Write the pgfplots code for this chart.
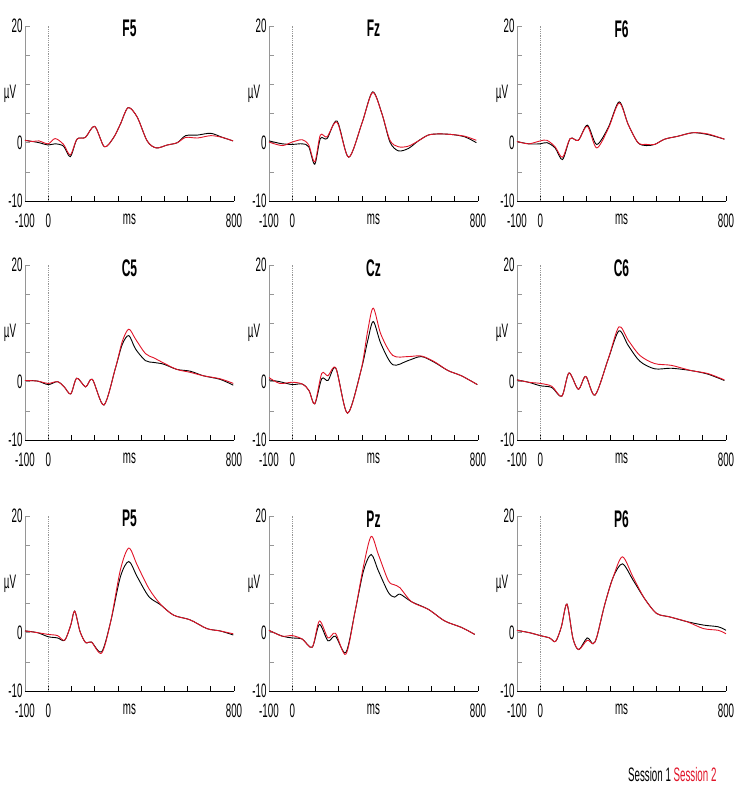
\documentclass[border=0pt]{standalone}
\usepackage{pgfplots}
\pgfplotsset{compat=1.18}
\usepackage{fontspec}
\setmainfont{Liberation Sans}[FakeStretch=0.5]
\definecolor{sred}{RGB}{225,20,40}
\definecolor{spine}{RGB}{150,150,150}

\pgfplotsset{
  erp/.style={
    width=209pt, height=175pt, scale only axis, anchor=south west,
    xmin=-100, xmax=800, ymin=-10, ymax=20,
    axis x line=bottom, axis y line=left,
    x axis line style={black,-,line width=0.8pt},
    y axis line style={spine,-,line width=0.8pt},
    xtick={-100,0,...,800}, xticklabels={-100,0,,,,,,,,800},
    extra x ticks={350}, extra x tick labels={ms},
    extra x tick style={major tick length=0pt},
    ytick={-10,-5,...,20}, yticklabels={-10,,0,,,,20},
    tick align=inside, major tick length=5pt,
    x tick style={black,line width=0.6pt},
    y tick style={spine,line width=0.6pt},
    tick label style={font=\fontsize{19.5}{19.5}\selectfont},
    xticklabel style={yshift=-9pt},
    yticklabel style={xshift=1pt},
    title style={at={(0.5,0.95)}, anchor=center, font=\bfseries\fontsize{24}{24}\selectfont},
    clip=false,
  },
  s1/.style={black, line width=0.9pt, smooth, tension=0.5},
  s2/.style={sred, line width=0.9pt, smooth, tension=0.5},
}
\newcommand{\erpdeco}{%
  \addplot[spine, densely dotted, line width=0.8pt] coordinates {(0,-10) (0,20)};
  \node[font=\fontsize{19.5}{19.5}\selectfont] at (rel axis cs:0,0.61) [xshift=-15pt] {µV};
}

\begin{document}
\begin{tikzpicture}
\path[use as bounding box] (0pt,0pt) rectangle (739pt,792pt);

% row 1
\begin{axis}[erp, at={(25pt,591pt)}, title={F5}]
\erpdeco
\addplot[s1] coordinates {(-100,0.4)(-68,0.2)(-40,0.0)(0,-0.4)(30,-0.2)(66,-0.6)(95,-2.4)(124,0.6)(160,0.9)(200,2.8)(242,-0.7)(282,0.9)(311,3.2)(344,6.0)(383,4.4)(426,0.3)(465,-0.9)(513,-0.4)(556,0.0)(592,1.2)(643,1.3)(700,1.6)(750,0.9)(796,0.3)};
\addplot[s2] coordinates {(-100,0.4)(-68,0.2)(-40,0.3)(0,-0.2)(30,0.7)(66,-0.3)(95,-2.1)(124,0.6)(160,0.9)(200,2.8)(242,-0.7)(282,0.9)(311,3.2)(344,6.0)(383,4.4)(426,0.3)(465,-0.9)(513,-0.4)(556,0.0)(592,0.9)(643,0.8)(700,1.2)(750,0.9)(796,0.3)};
\end{axis}

\begin{axis}[erp, at={(269pt,591pt)}, title={Fz}]
\erpdeco
\addplot[s1] coordinates {(-100,0.3)(-43,-0.2)(0,-0.3)(43,-0.2)(71,-0.7)(97,-3.7)(121,0.7)(150,0.7)(193,3.7)(243,-2.5)(300,3.3)(346,8.7)(386,5.0)(421,0.1)(457,-1.4)(500,-1.0)(543,0.3)(586,1.3)(629,1.5)(686,1.4)(743,1.0)(793,0.0)};
\addplot[s2] coordinates {(-100,0.1)(-43,-0.5)(0,0.1)(43,0.5)(71,-0.4)(97,-3.3)(121,1.3)(150,1.0)(193,3.5)(243,-2.5)(300,3.3)(346,8.6)(386,5.0)(421,0.4)(457,-0.7)(500,-0.6)(543,0.3)(586,1.3)(629,1.5)(686,1.4)(743,1.1)(793,0.4)};
\end{axis}

\begin{axis}[erp, at={(517pt,591pt)}, title={F6}]
\erpdeco
\addplot[s1] coordinates {(-100,0.2)(-50,-0.2)(0,-0.2)(29,0.0)(64,-0.9)(96,-2.9)(129,0.7)(164,0.4)(203,3.0)(243,-0.3)(293,2.6)(340,7.0)(379,3.1)(421,0.0)(457,-0.5)(493,-0.3)(536,0.6)(593,1.1)(657,1.7)(721,1.4)(793,0.6)};
\addplot[s2] coordinates {(-100,0.2)(-50,-0.2)(0,0.3)(29,0.4)(64,-0.7)(96,-2.5)(129,0.7)(164,0.4)(203,2.8)(243,-0.9)(293,2.4)(340,6.8)(379,3.1)(421,0.0)(457,-0.3)(493,-0.3)(536,0.6)(593,1.1)(657,1.7)(721,1.5)(793,0.6)};
\end{axis}

% row 2
\begin{axis}[erp, at={(25pt,352pt)}, title={C5}]
\erpdeco
\addplot[s1] coordinates {(-100,0.2)(-46,0.1)(0,-0.5)(40,0.0)(69,-0.9)(97,-2.1)(123,0.6)(161,-0.9)(190,0.4)(240,-4.0)(290,2.4)(319,6.4)(347,7.9)(376,5.6)(419,3.6)(454,3.3)(497,3.0)(554,2.1)(611,1.8)(669,1.0)(740,0.4)(797,-0.6)};
\addplot[s2] coordinates {(-100,0.2)(-46,0.1)(0,-0.3)(40,0.0)(69,-0.9)(97,-2.1)(123,0.6)(161,-0.9)(190,0.4)(240,-4.0)(290,2.4)(319,6.9)(347,9.0)(376,7.3)(419,4.8)(454,4.1)(497,3.2)(554,2.1)(611,1.6)(669,1.0)(740,0.5)(797,-0.3)};
\end{axis}

\begin{axis}[erp, at={(269pt,352pt)}, title={Cz}]
\erpdeco
\addplot[s1] coordinates {(-100,0.3)(-54,0.0)(0,-0.5)(43,-0.4)(72,-1.5)(97,-3.8)(127,0.5)(154,0.2)(188,2.3)(238,-5.4)(296,1.9)(325,7.0)(349,10.3)(382,6.5)(433,2.9)(498,3.6)(556,4.3)(613,3.3)(671,1.9)(729,1.0)(797,-0.5)};
\addplot[s2] coordinates {(-100,0.7)(-54,-0.3)(0,-0.1)(43,-0.4)(72,-1.5)(97,-3.8)(127,1.4)(154,1.0)(188,2.3)(238,-5.4)(296,1.9)(325,8.7)(349,12.6)(382,8.1)(433,4.5)(498,4.3)(556,4.4)(613,3.4)(671,1.9)(729,1.0)(797,-0.5)};
\end{axis}

\begin{axis}[erp, at={(517pt,352pt)}, title={C6}]
\erpdeco
\addplot[s1] coordinates {(-100,0.3)(-50,-0.1)(0,-0.7)(50,-1.0)(93,-2.5)(124,1.5)(164,-1.3)(196,0.9)(236,-2.3)(293,3.9)(339,8.7)(379,6.2)(429,3.5)(493,2.2)(564,2.3)(650,1.9)(721,1.3)(793,0.2)};
\addplot[s2] coordinates {(-100,0.3)(-50,-0.1)(0,-0.3)(50,-0.8)(93,-2.5)(124,1.5)(164,-1.3)(196,0.9)(236,-2.3)(293,3.9)(339,9.4)(379,7.1)(429,4.5)(493,3.1)(564,2.8)(650,1.9)(721,1.4)(793,0.3)};
\end{axis}

% row 3
\begin{axis}[erp, at={(25pt,101pt)}, title={P5}]
\erpdeco
\addplot[s1] coordinates {(-100,0.3)(-46,0.0)(0,-0.7)(40,-0.9)(71,-1.3)(97,1.3)(114,3.7)(137,0.2)(161,-1.7)(186,-1.6)(230,-3.3)(269,1.9)(311,9.6)(347,12.2)(383,9.6)(433,6.2)(483,4.8)(540,3.0)(611,2.2)(683,0.7)(740,0.3)(797,-0.4)};
\addplot[s2] coordinates {(-100,0.3)(-46,0.0)(0,-0.3)(40,-0.5)(71,-1.3)(97,1.3)(114,3.7)(137,0.2)(161,-1.7)(186,-1.6)(230,-3.5)(269,1.9)(311,10.8)(347,14.5)(383,11.6)(433,7.6)(483,4.9)(540,3.0)(611,2.2)(683,0.7)(740,0.3)(797,-0.2)};
\end{axis}

\begin{axis}[erp, at={(269pt,101pt)}, title={Pz}]
\erpdeco
\addplot[s1] coordinates {(-100,0.4)(-43,-0.6)(0,-0.9)(43,-1.1)(86,-2.5)(117,1.4)(154,-1.4)(186,-0.6)(231,-3.4)(271,3.7)(307,10.6)(340,13.4)(371,10.6)(414,6.9)(440,6.1)(464,6.6)(514,5.3)(586,4.0)(657,2.0)(729,0.9)(786,-0.3)};
\addplot[s2] coordinates {(-100,0.4)(-43,-0.6)(0,-0.5)(43,-1.1)(86,-2.5)(117,2.0)(154,-0.9)(186,-0.1)(231,-3.7)(271,3.7)(307,11.4)(340,16.5)(371,13.4)(414,8.9)(440,8.2)(464,7.7)(514,5.3)(586,4.0)(657,2.0)(729,0.9)(786,-0.3)};
\end{axis}

\begin{axis}[erp, at={(517pt,101pt)}, title={P6}]
\erpdeco
\addplot[s1] coordinates {(-100,0.4)(-47,0.0)(0,-0.5)(40,-0.9)(66,-1.5)(91,1.0)(115,4.9)(141,-1.0)(166,-2.9)(202,-0.9)(227,-1.9)(244,-0.7)(277,4.7)(314,9.5)(354,11.8)(400,9.0)(450,5.8)(501,3.3)(558,2.7)(631,1.9)(703,1.3)(767,1.0)(800,0.4)};
\addplot[s2] coordinates {(-100,0.4)(-47,0.0)(0,-0.5)(40,-0.9)(66,-1.5)(91,1.0)(115,4.9)(141,-1.0)(166,-2.9)(202,-1.3)(227,-1.9)(244,-0.7)(277,4.7)(314,9.5)(354,13.0)(400,9.5)(450,5.8)(501,3.3)(558,2.7)(631,1.9)(703,0.7)(767,0.4)(800,-0.2)};
\end{axis}

\node[anchor=base east, font=\fontsize{19.5}{19.5}\selectfont] at (720pt,10pt) {Session 1 \textcolor{sred}{Session 2}};
\end{tikzpicture}
\end{document}
